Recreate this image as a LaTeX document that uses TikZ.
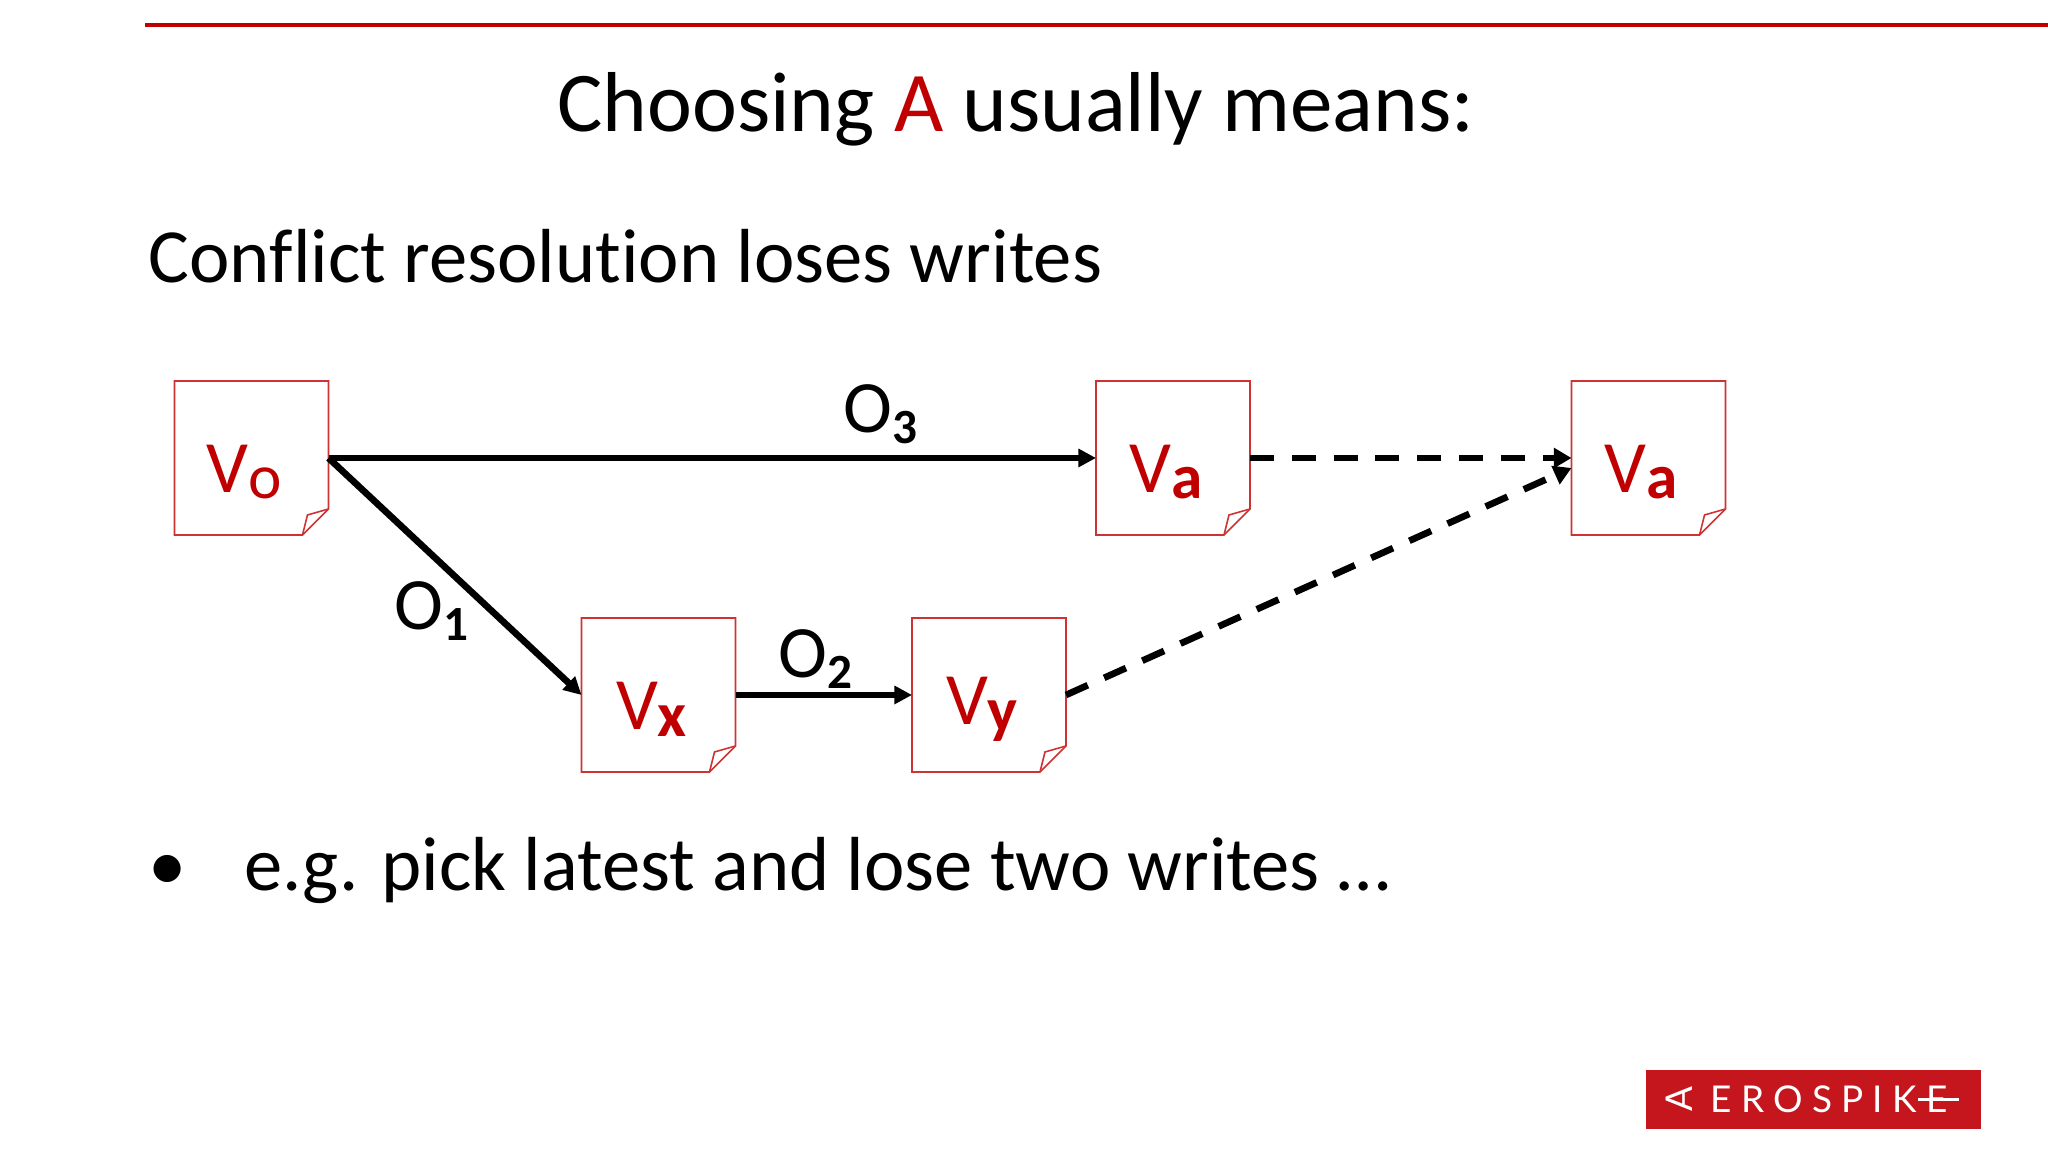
\documentclass[tikz,border=0pt]{standalone}
\usepackage{fontspec}
\setmainfont[Ligatures=NoCommon]{Carlito}
\newfontfamily\logofont[LetterSpace=25]{Lato}
\usetikzlibrary{arrows.meta,calc}
\definecolor{aerored}{HTML}{C00000}
\definecolor{logored}{HTML}{C4161C}
\tikzset{
  pagebox/.style={minimum size=1.54cm,inner sep=0pt,outer sep=0pt},
  pageline/.style={draw=aerored!80,line width=0.45pt},
  pagetext/.style={text=aerored,font=\fontsize{21}{24}\selectfont,anchor=center},
  oplabel/.style={font=\fontsize{21}{24}\selectfont,anchor=base west,inner sep=0pt},
  slidetext/.style={font=\fontsize{21.8}{24}\selectfont,anchor=base west,inner sep=0pt},
  oparrow/.style={-{Triangle[length=5pt,width=5pt]},line width=1.9pt},
  laterarrow/.style={-{Triangle[length=5pt,width=5.5pt]},line width=1.9pt,dash pattern=on 6.8pt off 5.1pt}
}
\newcommand{\letterlow}[1]{\raisebox{-1.9pt}{\fontsize{18}{20}\selectfont #1}}
\newcommand{\oplow}[1]{\raisebox{-3pt}{\fontsize{14}{16}\selectfont\bfseries #1}}
%hoja con la esquina doblada
\newcommand{\notepage}[3]{
  \node[pagebox] (#1) at (#2) {};
  \draw[pageline] (#1.north west) -- (#1.north east) -- ($(#1.south east)+(0,0.26)$)
    -- ($(#1.south east)+(-0.26,0)$) -- (#1.south west) -- cycle;
  \draw[pageline] ($(#1.south east)+(0,0.26)$) -- ($(#1.south east)+(-0.21,0.20)$)
    -- ($(#1.south east)+(-0.26,0)$);
  \node[pagetext] (#1-text) at ($(#1.center)+(-0.07,-0.14)$) {#3};
}
\begin{document}
\begin{tikzpicture}
\useasboundingbox (0,0) rectangle (20.48,11.52);

%Linea roja superior
\draw [aerored,line width=0.9pt] (1.45,11.27) -- (20.48,11.27);

%Titulos
\node[anchor=base,inner sep=0pt,font=\fontsize{24.2}{28}\selectfont] (title) at (10.16,10.2) {Choosing \textcolor{aerored}{A} usually means:};
\node[slidetext] (subtitle) at (1.48,8.69) {Conflict resolution loses writes};

%Hojas
\notepage{Vo}{2.515,6.94}{V\letterlow{o}}
\notepage{Vaone}{11.73,6.94}{V\letterlow{\bfseries a}}
\notepage{Vatwo}{16.485,6.94}{V\letterlow{\bfseries a}}
\notepage{Vx}{6.585,4.57}{V\letterlow{\bfseries x}}
\notepage{Vy}{9.89,4.57}{V\letterlow{\bfseries y}}
\coordinate (Vatwo-in) at ($(Vatwo.west)+(0,-0.10)$);

%Flechas
\draw [oparrow] (Vo.east) -- (Vaone.west);
\draw [oparrow] (Vo.east) -- (Vx.west);
\draw [oparrow,line width=1.5pt] (Vx.east) -- (Vy.west);
\draw [laterarrow] (Vaone.east) -- (Vatwo.west);
\draw [laterarrow] (Vy.east) -- (Vatwo-in);

%Operaciones
\node[oplabel] (Othree) at (8.43,7.19) {O\oplow{3}};
\node[oplabel] (Oone) at (3.94,5.22) {O\oplow{1}};
\node[oplabel] (Otwo) at (7.78,4.74) {O\oplow{2}};

%Lista
\node[slidetext] (bullet) at (1.48,2.61) {•};
\node[slidetext] (item) at (2.44,2.61) {e.g. pick latest and lose two writes …};

%Logo
\node[fill=logored,minimum width=3.35cm,minimum height=0.59cm,inner sep=0pt,outer sep=0pt] (logo) at (18.135,0.525) {};
\node[text=white,anchor=center,inner sep=0pt,rotate=90,font=\logofont\fontsize{10.5}{12}\selectfont] (logoA) at (16.79,0.525) {A};
\node[text=white,anchor=center,inner sep=0pt,font=\logofont\fontsize{10.5}{12}\selectfont] (logotext) at (18.29,0.525) {EROSPIKE};
\coordinate (logoend) at (19.59,0.525);
\draw [white,line width=0.7pt] (logotext.east |- logoend) ++(-0.3,0) -- (logoend);
\end{tikzpicture}
\end{document}
